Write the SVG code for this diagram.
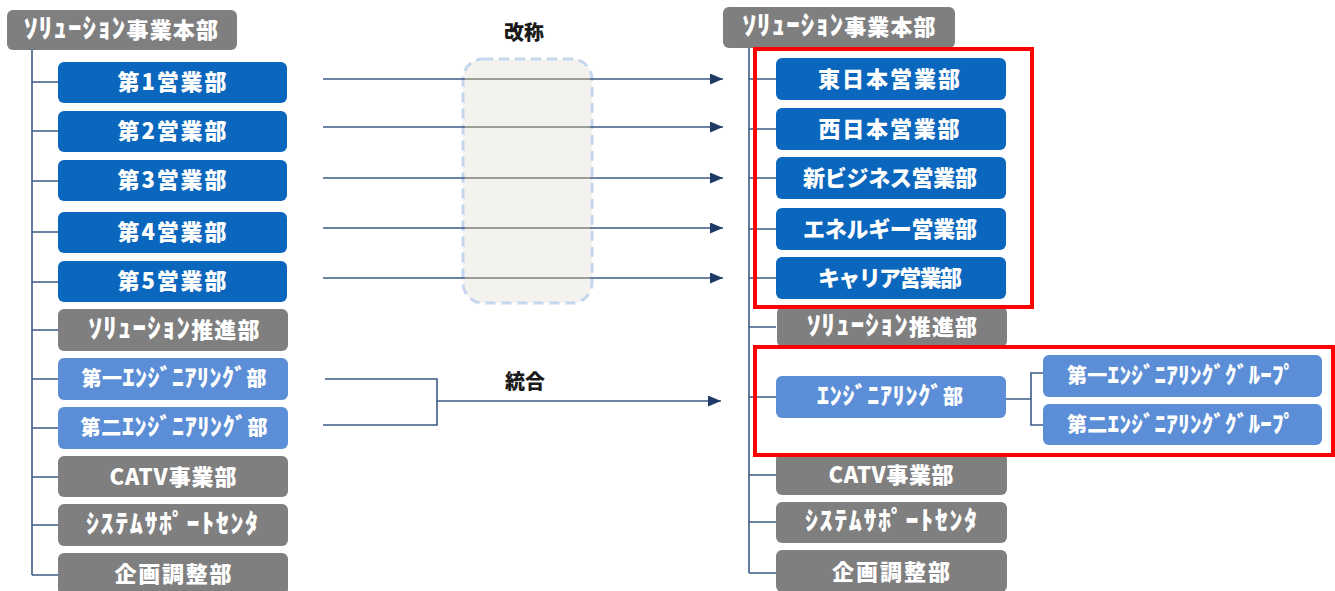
<svg xmlns="http://www.w3.org/2000/svg" width="1335" height="591" viewBox="0 0 1335 591">
<defs>
<style>
.n rect{stroke:none}
.dk rect{fill:#0b66bd}
.lt rect{fill:#5b8ed6}
.gr rect{fill:#7f7f7f}
text.t{font-family:"Noto Sans CJK JP","Noto Sans",sans-serif;font-weight:900;fill:#ffffff;text-anchor:middle}
text.h{font-family:"Noto Sans CJK JP","Noto Sans",sans-serif;font-weight:900;fill:#1a1a1a;text-anchor:middle;font-size:20px}
.ln{stroke:#3d5b88;stroke-width:1.6;fill:none}
.ar{stroke:#3d5b88;stroke-width:1.6;fill:none;marker-end:url(#ah)}
.hl{fill:none;stroke:#ff0000;stroke-width:4}
</style>
<marker id="ah" markerUnits="userSpaceOnUse" markerWidth="13" markerHeight="11" refX="13" refY="5.5" orient="auto">
<path d="M0,0 L13,5.5 L0,11 z" fill="#1f3a66"/>
</marker>
</defs>
<rect width="1335" height="591" fill="#ffffff"/>

<g id="rename-box">
<rect x="463" y="59" width="129" height="244" rx="20" fill="#f3f2ee" stroke="#c7d6ef" stroke-width="3" stroke-dasharray="10 6"/>
</g>

<g id="connectors">
<path class="ln" d="M32,50 V575 M32,82 H58 M32,131 H58 M32,181 H58 M32,232 H58 M32,282 H58 M32,330 H58 M32,379 H58 M32,428 H58 M32,477 H58 M32,525 H58 M32,575 H58"/>
<path class="ln" d="M749,48 V573 M749,79 H776 M749,129 H776 M749,178 H776 M749,229 H776 M749,278 H776 M749,327 H776 M749,397 H776 M749,475 H776 M749,522 H776 M749,573 H776"/>
<path class="ln" d="M1006,399 H1031 M1043,373 H1031 V425 H1043"/>
<path class="ln" d="M323,79 H465 M323,127 H465 M323,178 H465 M323,228 H465 M323,278 H465"/>
<path d="M465,79 H590 M465,127 H590 M465,178 H590 M465,228 H590 M465,278 H590" fill="none" stroke="#9b9d99" stroke-width="2"/>
<line class="ar" x1="590" y1="79" x2="723" y2="79"/>
<line class="ar" x1="590" y1="127" x2="723" y2="127"/>
<line class="ar" x1="590" y1="178" x2="723" y2="178"/>
<line class="ar" x1="590" y1="228" x2="723" y2="228"/>
<line class="ar" x1="590" y1="278" x2="723" y2="278"/>
<path class="ln" d="M325,379 H437 V425 H323"/>
<line class="ar" x1="437" y1="401" x2="721" y2="401"/>
</g>

<text class="h" x="524" y="40">改称</text>
<text class="h" x="525" y="389">統合</text>

<g id="L-head" class="n gr"><rect x="7" y="10" width="230" height="40" rx="6"/><text class="t" x="121" y="38" font-size="22" textLength="194" lengthAdjust="spacing"><tspan font-size="27">ｿﾘｭｰｼｮﾝ</tspan>事業本部</text></g>
<g id="L-sales1" class="n dk"><rect x="58" y="62" width="229" height="41" rx="6"/><text class="t" x="172" y="90" font-size="22" textLength="109" lengthAdjust="spacing">第1営業部</text></g>
<g id="L-sales2" class="n dk"><rect x="58" y="111" width="229" height="41" rx="6"/><text class="t" x="172" y="139" font-size="22" textLength="109" lengthAdjust="spacing">第2営業部</text></g>
<g id="L-sales3" class="n dk"><rect x="58" y="160" width="229" height="41" rx="6"/><text class="t" x="172" y="188" font-size="22" textLength="109" lengthAdjust="spacing">第3営業部</text></g>
<g id="L-sales4" class="n dk"><rect x="58" y="212" width="229" height="41" rx="6"/><text class="t" x="172" y="240" font-size="22" textLength="109" lengthAdjust="spacing">第4営業部</text></g>
<g id="L-sales5" class="n dk"><rect x="58" y="261" width="229" height="41" rx="6"/><text class="t" x="172" y="289" font-size="22" textLength="109" lengthAdjust="spacing">第5営業部</text></g>
<g id="L-promo" class="n gr"><rect x="58" y="309" width="230" height="42" rx="6"/><text class="t" x="174" y="338" font-size="22" textLength="171" lengthAdjust="spacing"><tspan font-size="27">ｿﾘｭｰｼｮﾝ</tspan>推進部</text></g>
<g id="L-eng1" class="n lt"><rect x="58" y="358" width="230" height="42" rx="6"/><text class="t" x="174" y="386" font-size="20" textLength="185" lengthAdjust="spacing">第一<tspan font-size="24">ｴﾝｼﾞﾆｱﾘﾝｸﾞ</tspan>部</text></g>
<g id="L-eng2" class="n lt"><rect x="58" y="407" width="230" height="42" rx="6"/><text class="t" x="174" y="435" font-size="20" textLength="187" lengthAdjust="spacing">第二<tspan font-size="24">ｴﾝｼﾞﾆｱﾘﾝｸﾞ</tspan>部</text></g>
<g id="L-catv" class="n gr"><rect x="58" y="456" width="230" height="41" rx="6"/><text class="t" x="173" y="485" font-size="22" textLength="127" lengthAdjust="spacing">CATV事業部</text></g>
<g id="L-sys" class="n gr"><rect x="58" y="504" width="230" height="42" rx="6"/><text class="t" x="172" y="533" font-size="26" textLength="172" lengthAdjust="spacing">ｼｽﾃﾑｻﾎﾟｰﾄｾﾝﾀ</text></g>
<g id="L-plan" class="n gr"><rect x="58" y="553" width="230" height="42" rx="6"/><text class="t" x="173" y="582" font-size="22" textLength="117" lengthAdjust="spacing">企画調整部</text></g>

<g id="R-head" class="n gr"><rect x="723" y="7" width="232" height="41" rx="6"/><text class="t" x="839" y="35" font-size="22" textLength="193" lengthAdjust="spacing"><tspan font-size="27">ｿﾘｭｰｼｮﾝ</tspan>事業本部</text></g>
<g id="R-east" class="n dk"><rect x="776" y="58" width="230" height="42" rx="6"/><text class="t" x="889" y="87" font-size="22" textLength="142" lengthAdjust="spacing">東日本営業部</text></g>
<g id="R-west" class="n dk"><rect x="776" y="108" width="230" height="42" rx="6"/><text class="t" x="889" y="137" font-size="22" textLength="141" lengthAdjust="spacing">西日本営業部</text></g>
<g id="R-newbiz" class="n dk"><rect x="776" y="157" width="230" height="42" rx="6"/><text class="t" x="890" y="186" font-size="22" textLength="174" lengthAdjust="spacing">新ビジネス営業部</text></g>
<g id="R-energy" class="n dk"><rect x="776" y="208" width="230" height="42" rx="6"/><text class="t" x="890" y="237" font-size="22" textLength="174" lengthAdjust="spacing">エネルギー営業部</text></g>
<g id="R-carrier" class="n dk"><rect x="776" y="257" width="230" height="42" rx="6"/><text class="t" x="890" y="286" font-size="22" textLength="144" lengthAdjust="spacing">キャリア営業部</text></g>
<g id="R-promo" class="n gr"><rect x="777" y="307" width="230" height="40" rx="6"/><text class="t" x="892" y="335" font-size="22" textLength="170" lengthAdjust="spacing"><tspan font-size="27">ｿﾘｭｰｼｮﾝ</tspan>推進部</text></g>
<g id="R-eng" class="n lt"><rect x="776" y="376" width="230" height="42" rx="6"/><text class="t" x="890" y="404" font-size="20" textLength="146" lengthAdjust="spacing"><tspan font-size="24">ｴﾝｼﾞﾆｱﾘﾝｸﾞ</tspan>部</text></g>
<g id="R-eng-g1" class="n lt"><rect x="1043" y="355" width="279" height="42" rx="6"/><text class="t" x="1181" y="383" font-size="20" textLength="228" lengthAdjust="spacing">第一<tspan font-size="23">ｴﾝｼﾞﾆｱﾘﾝｸﾞｸﾞﾙｰﾌﾟ</tspan></text></g>
<g id="R-eng-g2" class="n lt"><rect x="1043" y="404" width="279" height="41" rx="6"/><text class="t" x="1181" y="432" font-size="20" textLength="228" lengthAdjust="spacing">第二<tspan font-size="23">ｴﾝｼﾞﾆｱﾘﾝｸﾞｸﾞﾙｰﾌﾟ</tspan></text></g>
<g id="R-catv" class="n gr"><rect x="776" y="453" width="231" height="42" rx="6"/><text class="t" x="891" y="483" font-size="22" textLength="125" lengthAdjust="spacing">CATV事業部</text></g>
<g id="R-sys" class="n gr"><rect x="776" y="502" width="231" height="41" rx="6"/><text class="t" x="891" y="530" font-size="26" textLength="172" lengthAdjust="spacing">ｼｽﾃﾑｻﾎﾟｰﾄｾﾝﾀ</text></g>
<g id="R-plan" class="n gr"><rect x="776" y="550" width="231" height="42" rx="6"/><text class="t" x="891" y="580" font-size="22" textLength="118" lengthAdjust="spacing">企画調整部</text></g>

<g id="highlights">
<rect class="hl" x="755" y="49" width="277" height="258"/>
<rect class="hl" x="755" y="347" width="578" height="108"/>
</g>
</svg>
